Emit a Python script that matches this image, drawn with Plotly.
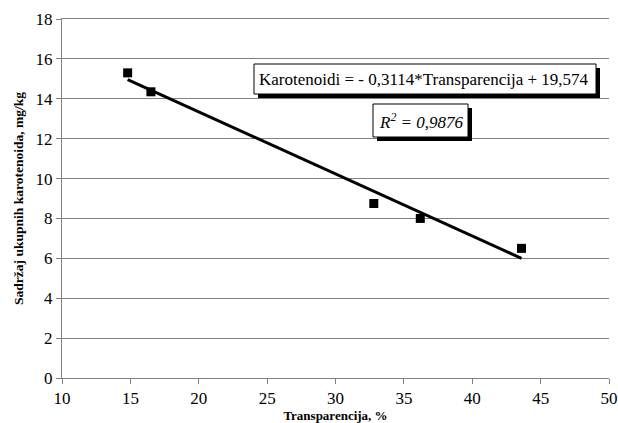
import plotly.graph_objects as go

transparencija = [14.8, 16.5, 32.8, 36.2, 43.6]
karotenoidi = [15.3, 14.35, 8.75, 8.0, 6.5]
slope = -0.3114
intercept = 19.574
eq_text = "Karotenoidi = - 0,3114*Transparencija + 19,574"
r2_text = "<i>R<sup>2</sup> = 0,9876</i>"
x_ticks = [10, 15, 20, 25, 30, 35, 40, 45, 50]
y_ticks = [0, 2, 4, 6, 8, 10, 12, 14, 16, 18]

x_line = [min(transparencija), max(transparencija)]
y_line = [slope * v + intercept for v in x_line]

fig = go.Figure()
fig.add_trace(go.Scatter(x=x_line, y=y_line, mode="lines",
                         line=dict(color="black", width=3), showlegend=False))
fig.add_trace(go.Scatter(x=transparencija, y=karotenoidi, mode="markers",
                         marker=dict(symbol="square", size=9, color="black"),
                         showlegend=False))

font = "Liberation Serif"

# plot area in page pixels: x 62..609, y 19..378
W = 609 - 62
H = 378 - 19
def px(x):
    return (x - 62) / W
def py(y):
    return (378 - y) / H

def box(x0, x1, y0, y1):
    fig.add_shape(type="rect", xref="paper", yref="paper",
                  x0=px(x0 + 4), x1=px(x1 + 4), y0=py(y0 + 4), y1=py(y1 + 4),
                  fillcolor="black", line=dict(width=0), layer="above")
    fig.add_shape(type="rect", xref="paper", yref="paper",
                  x0=px(x0), x1=px(x1), y0=py(y0), y1=py(y1),
                  fillcolor="white", line=dict(color="black", width=1), layer="above")

box(254, 596, 64, 94)
box(373, 468, 104, 137)

fig.add_annotation(xref="paper", yref="paper", x=px(424), y=py(79),
                   xanchor="center", yanchor="middle",
                   text=eq_text, showarrow=False,
                   font=dict(family=font, size=17, color="black"))
fig.add_annotation(xref="paper", yref="paper", x=px(421), y=py(121),
                   xanchor="center", yanchor="middle",
                   text=r2_text, showarrow=False,
                   font=dict(family=font, size=17, color="black"))

fig.update_layout(
    width=618, height=423,
    margin=dict(l=62, r=9, t=19, b=45),
    paper_bgcolor="white", plot_bgcolor="white",
    font=dict(family=font, color="black"),
)
fig.update_xaxes(range=[10, 50], tickvals=x_ticks, showgrid=False,
                 showline=True, linecolor="#808080", linewidth=1, mirror=True,
                 ticks="outside", ticklen=5, tickcolor="#808080",
                 tickfont=dict(family=font, size=17), zeroline=False,
                 automargin=False,
                 title=dict(text="<b>Transparencija, %</b>",
                            font=dict(family=font, size=13), standoff=2))
fig.update_yaxes(range=[0, 18], tickvals=y_ticks, showgrid=True,
                 gridcolor="#808080", gridwidth=1,
                 showline=True, linecolor="#808080", linewidth=1,
                 ticks="outside", ticklen=5, tickcolor="#808080",
                 tickfont=dict(family=font, size=17), zeroline=False,
                 automargin=False,
                 title=dict(text="<b>Sadržaj ukupnih karotenoida, mg/kg</b>",
                            font=dict(family=font, size=13.5), standoff=8))

fig.write_html("out.html", config={"displayModeBar": False},
               post_script="document.body.style.margin='0';document.body.style.overflow='hidden';")
